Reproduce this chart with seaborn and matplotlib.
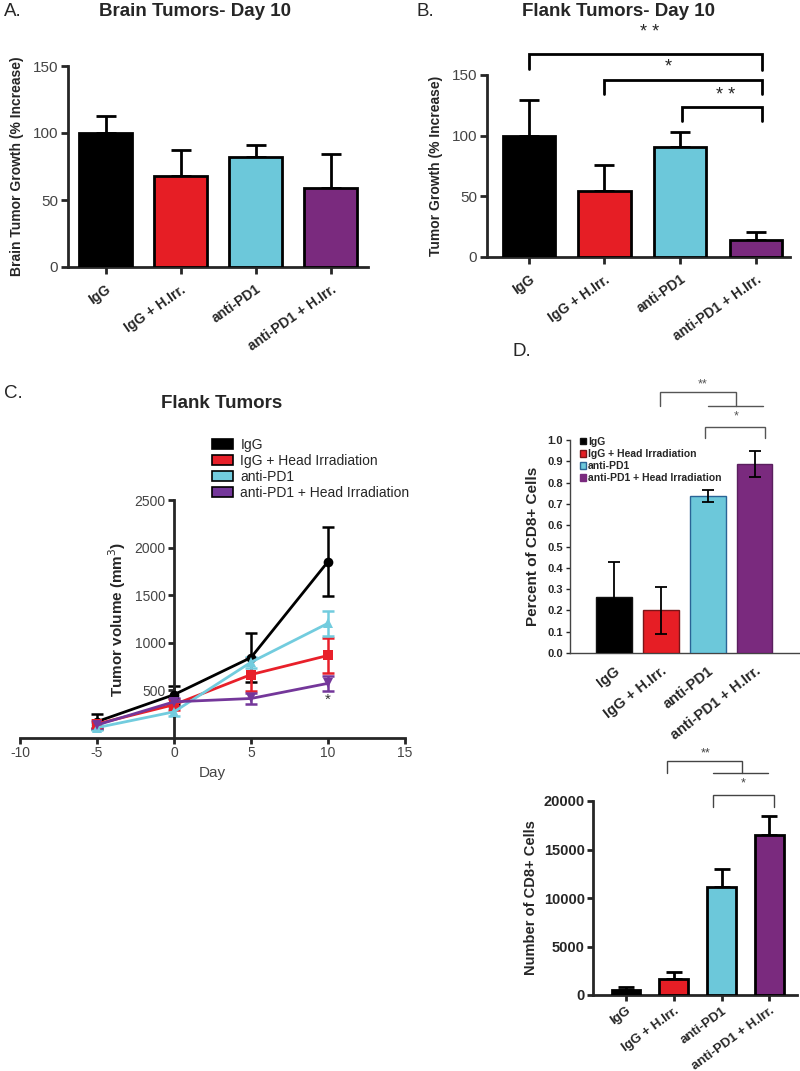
import numpy as np
import pandas as pd
import matplotlib
matplotlib.use('Agg')
import matplotlib.pyplot as plt
from matplotlib.patches import Patch
import seaborn as sns

sns.set_style('ticks')
plt.rcParams['font.family'] = ['Liberation Sans', 'DejaVu Sans']
plt.rcParams['axes.unicode_minus'] = False

# grupos y colores
groups = ['IgG', 'IgG + H.Irr.', 'anti-PD1', 'anti-PD1 + H.Irr.']
colors = ['#000000', '#E61E25', '#6CC8DA', '#7A2A7E']

# A. tumores cerebrales, dia 10 (% aumento)
brain_growth = [100, 68, 82, 59]
brain_sem = [13, 19, 9, 25]

# B. tumores de flanco, dia 10 (% aumento)
flank_growth = [100, 54, 91, 14]
flank_sem = [29, 22, 12, 7]

# C. volumen tumoral (mm3) por dia
days = [-5, 0, 5, 10]
line_groups = ['IgG', 'IgG + Head Irradiation', 'anti-PD1', 'anti-PD1 + Head Irradiation']
line_colors = ['#000000', '#E8202A', '#72CCDE', '#74379A']
vol_igg = [172, 455, 845, 1853]
vol_igg_err = [80, 95, 255, 365]
vol_red = [148, 350, 666, 867]
vol_red_err = [40, 60, 170, 185]
vol_cyan = [109, 275, 796, 1205]
vol_cyan_err = [30, 40, 60, 130]
vol_purple = [137, 380, 415, 574]
vol_purple_err = [30, 40, 60, 80]

# D. celulas CD8+
cd8_percent = [0.265, 0.20, 0.737, 0.888]
cd8_percent_err = [0.16, 0.11, 0.03, 0.06]
cd8_number = [500, 1600, 11100, 16500]
cd8_number_err = [300, 800, 1900, 2000]

fig = plt.figure(figsize=(8, 10.71), dpi=100)
H = 1071.0
W = 800.0


def rect(x0, y_top, x1, y_bot):
    return [x0 / W, 1 - y_bot / H, (x1 - x0) / W, (y_bot - y_top) / H]


def bars(ax, vals, width, lw):
    df = pd.DataFrame({'group': groups, 'value': vals})
    sns.barplot(data=df, x='group', y='value', hue='group', palette=colors,
                legend=False, width=width, edgecolor='black', linewidth=lw,
                saturation=1, errorbar=None, ax=ax, zorder=3)


def rotate_labels(ax, angle, size):
    for lab in ax.get_xticklabels():
        lab.set_rotation(angle)
        lab.set_ha('right')
        lab.set_rotation_mode('anchor')
        lab.set_fontweight('bold')
        lab.set_fontsize(size)


def bracket(ax, x0, x1, y, y0, y1, lw, color):
    ax.plot([x0, x0, x1, x1], [y0, y, y, y1], color=color, lw=lw, clip_on=False,
            solid_joinstyle='miter')


# ---------------- A ----------------
axA = fig.add_axes(rect(68, 66, 368, 267))
bars(axA, brain_growth, 0.7, 2)
axA.errorbar(range(4), brain_growth, yerr=[np.zeros(4), brain_sem], fmt='none',
             ecolor='black', elinewidth=2, capsize=7, capthick=2, zorder=2)
axA.set_xlim(-0.5, 3.5)
axA.set_ylim(0, 150)
axA.set_yticks([0, 50, 100, 150])
axA.set_xlabel('')
axA.set_ylabel('Brain Tumor Growth (% Increase)', fontsize=10, fontweight='bold', labelpad=6)
axA.tick_params(axis='both', width=2, length=5, pad=6)
axA.tick_params(axis='y', labelsize=11, labelcolor='#444444', pad=2)
rotate_labels(axA, 35, 10)
for s in ['left', 'bottom']:
    axA.spines[s].set_linewidth(2)
sns.despine(ax=axA)
fig.text(195 / W, 1 - 11 / H, 'Brain Tumors- Day 10', ha='center', va='center',
         fontsize=13.5, fontweight='bold')
fig.text(4 / W, 1 - 11 / H, 'A.', ha='left', va='center', fontsize=13.5)

# ---------------- B ----------------
axB = fig.add_axes(rect(487, 75, 790, 257))
bars(axB, flank_growth, 0.69, 2)
axB.errorbar(range(4), flank_growth, yerr=[np.zeros(4), flank_sem], fmt='none',
             ecolor='black', elinewidth=2, capsize=7, capthick=2, zorder=2)
axB.set_xlim(-0.55, 3.45)
axB.set_ylim(0, 150)
axB.set_yticks([0, 50, 100, 150])
axB.set_xlabel('')
axB.set_ylabel('Tumor Growth (% Increase)', fontsize=10, fontweight='bold', labelpad=6)
axB.tick_params(axis='both', width=2, length=5, pad=6)
axB.tick_params(axis='y', labelsize=11, labelcolor='#444444', pad=2)
rotate_labels(axB, 35, 10)
for s in ['left', 'bottom']:
    axB.spines[s].set_linewidth(2)
sns.despine(ax=axB)
bracket(axB, 0.0, 3.08, 167, 155, 154, 2, 'black')
bracket(axB, 1.0, 3.08, 146, 134, 134, 2, 'black')
bracket(axB, 2.03, 3.08, 124, 112, 112, 2, 'black')
axB.text(1.6, 185, '* *', ha='center', va='center', fontsize=13, clip_on=False)
axB.text(1.84, 157, '*', ha='center', va='center', fontsize=13, clip_on=False)
axB.text(2.6, 133, '* *', ha='center', va='center', fontsize=13, clip_on=False)
fig.text(619 / W, 1 - 11 / H, 'Flank Tumors- Day 10', ha='center', va='center',
         fontsize=13.5, fontweight='bold')
fig.text(416 / W, 1 - 11 / H, 'B.', ha='left', va='center', fontsize=13.5)

# ---------------- C ----------------
axC = fig.add_axes(rect(20, 500, 405, 738))
vol_all = [vol_igg, vol_red, vol_cyan, vol_purple]
err_all = [vol_igg_err, vol_red_err, vol_cyan_err, vol_purple_err]
df_c = pd.DataFrame({
    'day': days * 4,
    'volume': sum(vol_all, []),
    'group': [g for g in line_groups for _ in days],
})
for vals, errs, col in zip(vol_all, err_all, line_colors):
    axC.errorbar(days, vals, yerr=errs, fmt='none', ecolor=col, elinewidth=1.8,
                 capsize=4, capthick=1.8, zorder=2)
sns.lineplot(data=df_c, x='day', y='volume', hue='group', style='group',
             palette=line_colors, markers=['o', 's', '^', 'v'], dashes=False,
             linewidth=2, markersize=7, markeredgewidth=0, legend=False,
             ax=axC, zorder=3)
axC.set_xlim(-10, 15)
axC.set_ylim(0, 2500)
axC.set_xticks([-10, -5, 0, 5, 10, 15])
axC.set_yticks([500, 1000, 1500, 2000, 2500])
axC.spines['left'].set_position(('data', 0))
for s in ['left', 'bottom']:
    axC.spines[s].set_linewidth(2)
sns.despine(ax=axC)
axC.tick_params(axis='both', width=2, length=4, labelsize=10, labelcolor='#444444', pad=2)
axC.set_xlabel('Day', fontsize=11, color='#444444', labelpad=4)
axC.set_ylabel('Tumor volume (mm$^3$)', fontsize=11, fontweight='bold', labelpad=5)
axC.text(10, 400, '*', ha='center', va='center', fontsize=11, color='#333333')
handles_c = [Patch(facecolor=c, edgecolor='black', linewidth=1.2) for c in line_colors]
fig.legend(handles_c, line_groups, loc='upper left', bbox_to_anchor=(212 / W, 1 - 438 / H),
           frameon=False, fontsize=10, handlelength=1.5, handleheight=0.75,
           handletextpad=0.55, labelspacing=0.15, borderpad=0, borderaxespad=0)
fig.text(222 / W, 1 - 403 / H, 'Flank Tumors', ha='center', va='center',
         fontsize=13.5, fontweight='bold')
fig.text(4 / W, 1 - 393 / H, 'C.', ha='left', va='center', fontsize=13.5)

# ---------------- D (porcentaje) ----------------
axD1 = fig.add_axes(rect(570, 440, 800, 653))
bars(axD1, cd8_percent, 0.76, 1)
for p, ec in zip(axD1.patches, ['#111111', '#7A1518', '#2A6496', '#5A1F5E']):
    p.set_edgecolor(ec)
axD1.errorbar(range(4), cd8_percent, yerr=cd8_percent_err, fmt='none',
              ecolor='black', elinewidth=1.3, capsize=4, capthick=1.3, zorder=4)
axD1.set_xlim(-0.94, 3.97)
axD1.set_ylim(0, 1.0)
axD1.set_yticks(np.round(np.arange(0, 1.01, 0.1), 1))
axD1.set_yticklabels([f'{v:.1f}' for v in np.arange(0, 1.01, 0.1)])
axD1.set_xlabel('')
axD1.set_ylabel('Percent of CD8+ Cells', fontsize=11, fontweight='bold', labelpad=5)
axD1.tick_params(axis='y', length=3, width=1, labelsize=8, pad=2)
axD1.tick_params(axis='x', length=0, pad=8)
for lab in axD1.get_yticklabels():
    lab.set_fontweight('bold')
rotate_labels(axD1, 38, 10.5)
for s in ['left', 'bottom']:
    axD1.spines[s].set_linewidth(1)
    axD1.spines[s].set_color('#444444')
sns.despine(ax=axD1)
bracket(axD1, 0.98, 2.61, 1.227, 1.161, 1.161, 1, '#555555')
axD1.plot([2.0, 3.17], [1.161, 1.161], color='#555555', lw=1, clip_on=False)
bracket(axD1, 1.94, 3.23, 1.062, 1.009, 1.009, 1, '#555555')
axD1.text(1.89, 1.262, '**', ha='center', va='center', fontsize=9, color='#555555', clip_on=False)
axD1.text(2.6, 1.112, '*', ha='center', va='center', fontsize=9, color='#555555', clip_on=False)
handles_d = [Patch(facecolor=c, edgecolor=ec, linewidth=1)
             for c, ec in zip(colors, ['#111111', '#7A1518', '#2A6496', '#7A2A7E'])]
axD1.legend(handles_d, ['IgG', 'IgG + Head Irradiation', 'anti-PD1', 'anti-PD1 + Head Irradiation'],
            loc='upper left', bbox_to_anchor=(580 / W, 1 - 437 / H),
            bbox_transform=fig.transFigure, frameon=False,
            prop={'size': 7.5, 'weight': 'bold'}, handlelength=0.55, handleheight=0.55,
            handletextpad=0.2, labelspacing=0.2, borderpad=0, borderaxespad=0)
fig.text(512 / W, 1 - 352 / H, 'D.', ha='left', va='center', fontsize=13.5)

# ---------------- D (numero) ----------------
axD2 = fig.add_axes(rect(593, 801, 797, 995))
bars(axD2, cd8_number, 0.6, 2)
axD2.errorbar(range(4), cd8_number, yerr=[np.zeros(4), cd8_number_err], fmt='none',
              ecolor='black', elinewidth=2, capsize=6, capthick=2, zorder=2)
axD2.set_xlim(-0.69, 3.58)
axD2.set_ylim(0, 20000)
axD2.set_yticks([0, 5000, 10000, 15000, 20000])
axD2.set_xlabel('')
axD2.set_ylabel('Number of CD8+ Cells', fontsize=10.5, fontweight='bold', labelpad=4)
axD2.tick_params(axis='both', width=2, length=4, pad=3)
axD2.tick_params(axis='y', labelsize=10.5, pad=2)
for lab in axD2.get_yticklabels():
    lab.set_fontweight('bold')
rotate_labels(axD2, 36, 9.5)
for s in ['left', 'bottom']:
    axD2.spines[s].set_linewidth(2)
sns.despine(ax=axD2)
bracket(axD2, 0.85, 2.43, 24155, 22855, 22855, 1, '#444444')
axD2.plot([1.82, 2.97], [22855, 22855], color='#444444', lw=1, clip_on=False)
bracket(axD2, 1.82, 3.09, 20620, 19410, 19410, 1, '#444444')
axD2.text(1.66, 24900, '**', ha='center', va='center', fontsize=9, color='#444444', clip_on=False)
axD2.text(2.45, 21800, '*', ha='center', va='center', fontsize=9, color='#444444', clip_on=False)

fig.savefig('out.png', dpi=100)
